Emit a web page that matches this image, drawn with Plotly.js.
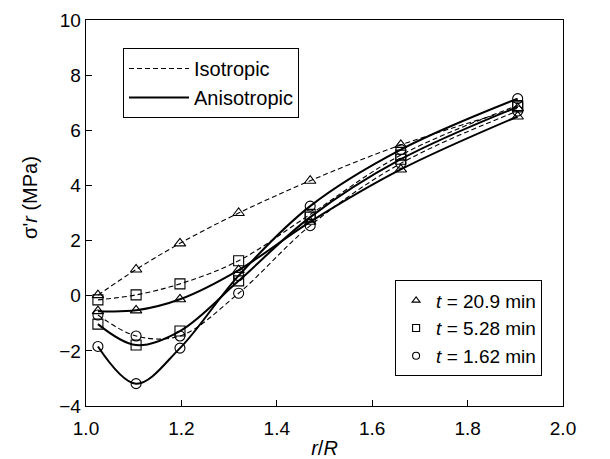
<!DOCTYPE html>
<html>
<head>
<meta charset="utf-8">
<script src="https://cdn.plot.ly/plotly-3.0.1.min.js"></script>
<style>html,body{margin:0;padding:0;background:#fff;}#chart{width:610px;height:459px;}</style>
</head>
<body>
<div id="chart"></div>
<script>
// r/R positions
const rR = [1.025, 1.105, 1.197, 1.32, 1.47, 1.66, 1.905];

// Isotropic (dashed) series
const isoT209 = [0.02, 0.95, 1.9, 3.0, 4.17, 5.47, 6.8];
const isoT528 = [-0.15, 0.03, 0.43, 1.27, 2.95, 5.1, 6.9];
const isoT162 = [-0.7, -1.46, -1.46, 0.09, 2.54, 4.8, 6.7];

// Anisotropic (solid) series
const anisoT209 = [-0.56, -0.53, -0.13, 0.93, 2.68, 4.58, 6.5];
const anisoT528 = [-1.03, -1.79, -1.28, 0.54, 2.85, 4.95, 6.85];
const anisoT162 = [-1.84, -3.19, -1.9, 0.73, 3.25, 5.3, 7.15];

const modelNames = ['Isotropic', 'Anisotropic'];
const timeNames = ['<i>t</i> = 20.9 min', '<i>t</i> = 5.28 min', '<i>t</i> = 1.62 min'];
const symbols = ['triangle-up-open', 'square-open', 'circle-open'];

const xTicks = [1.0, 1.2, 1.4, 1.6, 1.8, 2.0];
const yTicks = [-4, -2, 0, 2, 4, 6, 8, 10];
const xTitle = '<i>r</i>/<i>R</i>';
const yTitle = "σ'<i>r</i> (MPa)";

const traces = [];
const isoSets = [isoT209, isoT528, isoT162];
const anisoSets = [anisoT209, anisoT528, anisoT162];

function addSeries(ys, sym, dashed) {
  traces.push({
    x: rR, y: ys, mode: 'lines+markers', showlegend: false,
    line: {shape: 'spline', smoothing: 1, color: 'black', width: dashed ? 1.1 : 2, dash: dashed ? '5px,3px' : 'solid'},
    marker: {symbol: sym, size: 10, color: 'black', line: {width: 1.1, color: 'black'}}
  });
}
isoSets.forEach((s, i) => addSeries(s, symbols[i], true));
anisoSets.forEach((s, i) => addSeries(s, symbols[i], false));

// legend entries
traces.push({x: [null], y: [null], mode: 'lines', name: modelNames[0], legend: 'legend',
  line: {color: 'black', width: 1.1, dash: '5px,3px'}});
traces.push({x: [null], y: [null], mode: 'lines', name: modelNames[1], legend: 'legend',
  line: {color: 'black', width: 2}});
timeNames.forEach((n, i) => traces.push({x: [null], y: [null], mode: 'markers', name: n, legend: 'legend2',
  marker: {symbol: symbols[i], size: 7, color: 'black', line: {width: 1.1, color: 'black'}}}));

const fontFam = 'Arial, "Liberation Sans", sans-serif';

const layout = {
  width: 610, height: 459,
  margin: {l: 86, r: 47, t: 20, b: 53},
  paper_bgcolor: 'white', plot_bgcolor: 'white',
  font: {family: fontFam, size: 19, color: 'black'},
  xaxis: {
    range: [1.0, 2.0], tickvals: xTicks, ticktext: xTicks.map(v => v.toFixed(1)),
    ticks: 'inside', ticklen: 6, tickwidth: 1, tickcolor: 'black',
    showline: true, linecolor: 'black', linewidth: 1.3, mirror: true,
    showgrid: false, zeroline: false, ticklabelstandoff: 5,
    tickfont: {size: 19},
    title: {text: xTitle, font: {size: 20}, standoff: 6}
  },
  yaxis: {
    range: [-4, 10], tickvals: yTicks,
    ticks: 'inside', ticklen: 6, tickwidth: 1, tickcolor: 'black',
    showline: true, linecolor: 'black', linewidth: 1.3, mirror: true,
    showgrid: false, zeroline: false,
    tickfont: {size: 19}
  },
  annotations: [{
    text: yTitle, xref: 'paper', yref: 'paper', x: -0.1174, y: 0.539,
    xanchor: 'center', yanchor: 'middle', textangle: -90, showarrow: false,
    font: {size: 20}
  }],
  legend: {
    x: 0.0776, y: 0.8368, xanchor: 'left', yanchor: 'middle',
    bordercolor: 'black', borderwidth: 1, bgcolor: 'white',
    font: {size: 20}, itemwidth: 60, tracegroupgap: 0
  },
  legend2: {
    x: 0.648, y: 0.2008, xanchor: 'left', yanchor: 'middle',
    bordercolor: 'black', borderwidth: 1, bgcolor: 'white',
    font: {size: 19}
  }
};

Plotly.newPlot('chart', traces, layout, {displayModeBar: false, staticPlot: true});
</script>
</body>
</html>
